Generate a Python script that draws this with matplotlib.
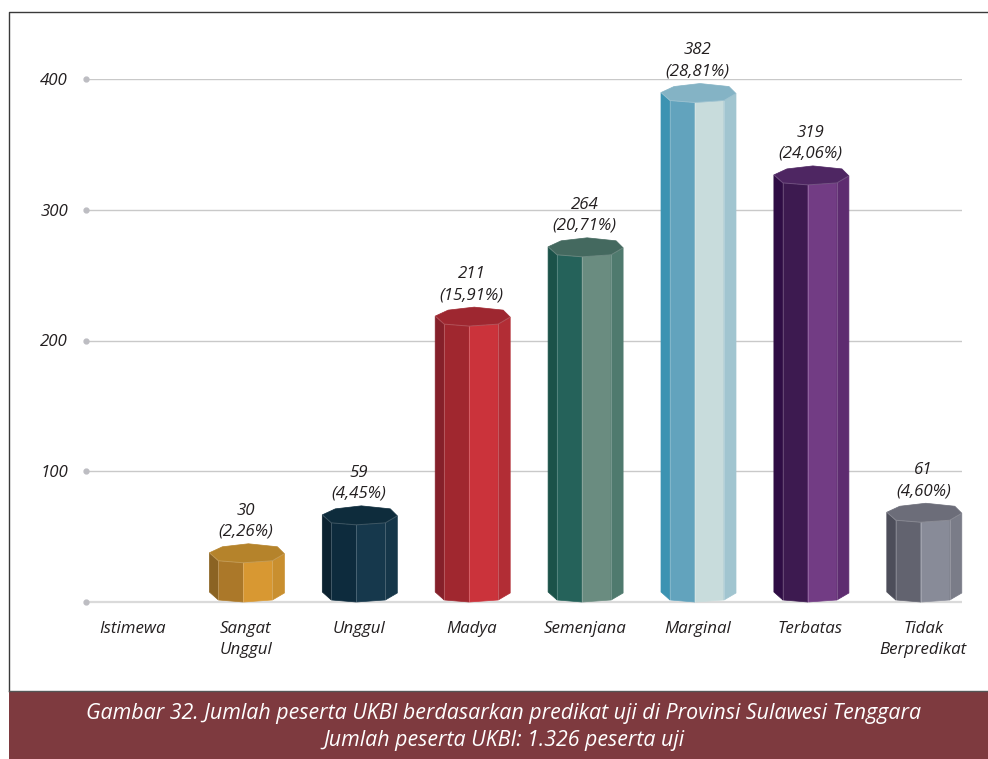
import matplotlib
matplotlib.use('Agg')
import matplotlib.pyplot as plt
from matplotlib.patches import Polygon, Rectangle
from matplotlib.lines import Line2D

plt.rcParams['font.family'] = ['Open Sans', 'DejaVu Sans']

# data
kategori = ['Istimewa', 'Sangat\nUnggul', 'Unggul', 'Madya', 'Semenjana', 'Marginal', 'Terbatas', 'Tidak\nBerpredikat']
jumlah = [0, 30, 59, 211, 264, 382, 319, 61]
persen = ['', '2,26%', '4,45%', '15,91%', '20,71%', '28,81%', '24,06%', '4,60%']
yticks = [100, 200, 300, 400]

# warna: atas, sisi kiri luar, kiri, kanan, kanan luar
warna = [None,
         ['#B5832B', '#8B6323', '#AB7829', '#D89832', '#C98F2F'],
         ['#0E2C3C', '#0B2230', '#0D2B3D', '#16384C', '#153649'],
         ['#9E2730', '#85202A', '#A0272F', '#CB333B', '#B22D35'],
         ['#44695F', '#1B5249', '#25625A', '#6A8C80', '#4F7A6E'],
         ['#84B3C5', '#3C93B2', '#62A3BD', '#C8DCDC', '#A1C5D0'],
         ['#4E2662', '#2F0D45', '#3D1A50', '#723C84', '#5E2C70'],
         ['#6C6D79', '#4D4E5A', '#62636F', '#888B98', '#7A7C88']]

W, H = 988, 759
fig = plt.figure(figsize=(W / 100, H / 100), dpi=100)

# sumbu: nilai 0 di y=602 px, 400 di y=79 px
x0, x1 = 86, 962
y0, y400 = 602, 79
ax = fig.add_axes([x0 / W, 1 - y0 / H, (x1 - x0) / W, (y0 - y400) / H])
px_x = 112.9
px_y = (y0 - y400) / 400
ax.set_xlim((x0 - 133) / px_x, (x1 - 133) / px_x)
ax.set_ylim(0, 400)
for s in ax.spines.values():
    s.set_visible(False)
ax.patch.set_alpha(0)

ax.axhline(0, color='#DADADA', lw=1.6, zorder=1, clip_on=False, solid_capstyle='butt')
for v in yticks:
    ax.axhline(v, color='#C9C9C9', lw=1, zorder=1, solid_capstyle='butt')
ax.plot([ax.get_xlim()[0]] * 5, [0] + yticks, 'o', ms=3.5, color='#BDBDC2', zorder=2, clip_on=False)

# bentuk prisma segi delapan (px, relatif ke pusat batang dan titik depan)
geser = 1.5
atas_dx = [-38, -25, 1, 30, 37, 25, -4, -29]
atas_dy = [10, 16, 19, 16, 9, 2, 0, 2]
sisi_dx = [-38, -29, -4, 25, 37]
sisi_dy = [10, 2, 0, 2, 9]

for i, (v, w) in enumerate(zip(jumlah, warna)):
    if w is None:
        continue
    c = i + geser / px_x
    for k in range(4):
        xa, xb = c + sisi_dx[k] / px_x, c + sisi_dx[k + 1] / px_x
        ya, yb = sisi_dy[k] / px_y, sisi_dy[k + 1] / px_y
        ax.add_patch(Polygon([(xa, ya), (xb, yb), (xb, v + yb), (xa, v + ya)], closed=True,
                             fc=w[k + 1], ec=w[k + 1], lw=0.5, zorder=3, clip_on=False))
    for k in range(1, 4):
        xs = c + sisi_dx[k] / px_x
        ax.plot([xs, xs], [sisi_dy[k] / px_y, v + sisi_dy[k] / px_y], color='white', alpha=0.2, lw=0.7,
                zorder=4, clip_on=False)
    ax.add_patch(Polygon([(c + a / px_x, v + b / px_y) for a, b in zip(atas_dx, atas_dy)], closed=True,
                         fc=w[0], ec=w[0], lw=0.5, zorder=5, clip_on=False))
    # tepi depan penutup yang sedikit terang
    ax.plot([c + a / px_x for a in sisi_dx], [v + b / px_y for b in sisi_dy], color='white', alpha=0.18, lw=0.7,
            zorder=6, clip_on=False)
    ax.annotate('%d\n(%s)' % (v, persen[i]), (i, v), xytext=(0, 23), textcoords='offset pixels',
                ha='center', va='bottom', fontsize=12.2, style='italic', color='#231F20',
                linespacing=1.42, zorder=7, clip_on=False)

ax.set_xticks(range(len(kategori)))
ax.set_xticklabels(kategori, fontsize=12.2, style='italic', color='#231F20', linespacing=1.42)
ax.set_yticks(yticks)
ax.set_yticklabels([str(v) for v in yticks], fontsize=12.2, style='italic', color='#231F20')
ax.tick_params(axis='x', length=0, pad=14)
ax.tick_params(axis='y', length=0, pad=13)

# bingkai dan pita keterangan
fig.add_artist(Line2D([9 / W, 9 / W, 1], [1 - 691 / H, 1 - 11.5 / H, 1 - 11.5 / H], color='#3A3A3A', lw=1))
fig.add_artist(Rectangle((9 / W, 0), 1 - 9 / W, 68 / H, fc='#7E3A3F', ec='none', transform=fig.transFigure))
fig.add_artist(Line2D([9 / W, 1], [1 - 691 / H, 1 - 691 / H], color='#555555', lw=1))
fig.text(504 / W, 1 - 713.5 / H, 'Gambar 32. Jumlah peserta UKBI berdasarkan predikat uji di Provinsi Sulawesi Tenggara',
         ha='center', va='center', color='white', style='italic', fontsize=15.4)
fig.text(504 / W, 1 - 740.5 / H, 'Jumlah peserta UKBI: 1.326 peserta uji',
         ha='center', va='center', color='white', style='italic', fontsize=15.4)

fig.savefig('out.png', dpi=100)
